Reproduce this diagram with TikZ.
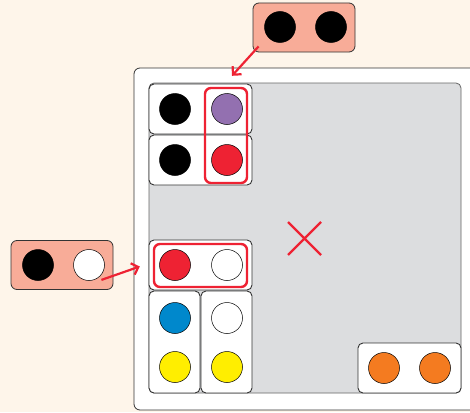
\documentclass[tikz,border=0pt]{standalone}
\usetikzlibrary{arrows.meta,calc}
\definecolor{bgcream}{HTML}{FEF5EA}
\definecolor{boardgray}{HTML}{DCDDDF}
\definecolor{salmon}{HTML}{F8AC98}
\definecolor{hlred}{HTML}{EE2233}
\definecolor{purp}{HTML}{9370B0}
\definecolor{cyanblue}{HTML}{0088CC}
\definecolor{yell}{HTML}{FFEE00}
\definecolor{orng}{HTML}{F47B20}
\begin{document}
\begin{tikzpicture}[x=1pt,y=-1pt,
  tray/.style={draw=black!80, fill=white, line width=0.9pt, rounded corners=5pt, inner sep=0pt},
  piece/.style={draw=black!80, fill=salmon, line width=0.8pt, rounded corners=6pt, inner sep=0pt, minimum width=102pt, minimum height=49pt},
  ball/.style={circle, draw=black, line width=0.5pt, minimum size=31pt, inner sep=0pt},
  hilite/.style={draw=hlred, line width=2.4pt, rounded corners=6pt, inner sep=0pt},
  redarrow/.style={draw=hlred, line width=2.2pt, -{Straight Barb[length=6pt,width=12pt]}}]
% Background
\fill[bgcream] (0,0) rectangle (470,412);
\useasboundingbox (0,0) rectangle (470,412);
\clip (0,0) rectangle (470,412);

% Board
\draw[fill=white, draw=black!80, line width=0.8pt, rounded corners=6pt] (134,68) rectangle (490,410);
\draw[fill=boardgray, draw=black!60, line width=0.8pt, rounded corners=5pt] (149,83) rectangle (461,393);

% Trays
\node[tray, minimum width=103pt, minimum height=50pt] (trayA) at (200.5,109) {};
\node[tray, minimum width=103pt, minimum height=50pt] (trayB) at (200.5,160) {};
\node[tray, minimum width=103pt, minimum height=50pt] (trayC) at (200.5,265) {};
\node[tray, minimum width=51pt, minimum height=102pt] (trayD) at (174.5,342) {};
\node[tray, minimum width=51pt, minimum height=102pt] (trayE) at (226.5,342) {};
\node[tray, minimum width=103pt, minimum height=50pt] (trayF) at (409.5,368) {};

\node[ball, fill=black] (a1) at (175,109) {};
\node[ball, fill=purp] (a2) at (227,109) {};
\node[ball, fill=black] (b1) at (175,160) {};
\node[ball, fill=hlred] (b2) at (227,160) {};
\node[ball, fill=hlred] (c1) at (175,265) {};
\node[ball, fill=white] (c2) at (227,265) {};
\node[ball, fill=cyanblue] (d1) at (175,318) {};
\node[ball, fill=yell] (d2) at (175,367) {};
\node[ball, fill=white] (e1) at (227,318) {};
\node[ball, fill=yell] (e2) at (227,367) {};
\node[ball, fill=orng] (f1) at (384,368) {};
\node[ball, fill=orng] (f2) at (435,368) {};

% Highlights
\node[hilite, minimum width=42pt, minimum height=95pt] (hlcol) at (226,135.5) {};
\node[hilite, minimum width=93pt, minimum height=43pt] (hlrow) at (200.5,265.5) {};

% Red cross
\draw[hlred, line width=2.2pt] (288,222) -- (321,255) (321,222) -- (288,255);

% Loose pieces
\node[piece] (pieceTop) at (304,27.5) {};
\node[ball, fill=black] (t1) at (280,27) {};
\node[ball, fill=black] (t2) at (331,27) {};
\node[piece] (pieceLeft) at (62,265) {};
\node[ball, fill=black] (l1) at (38,265) {};
\node[ball, fill=white] (l2) at (89,265) {};

% Arrows
\draw[redarrow] ($(pieceTop.south west)+(6,-6)$) -- ($(hlcol.north)+(6,-11)$);
\draw[redarrow] ($(pieceLeft.south east)+(-12,-10)$) -- ($(hlrow.west)+(-13,1)$);
\end{tikzpicture}
\end{document}
